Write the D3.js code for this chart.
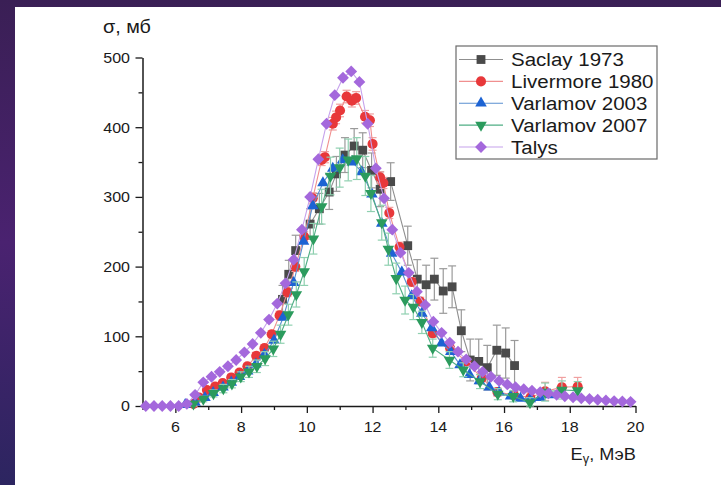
<!DOCTYPE html>
<html>
<head>
<meta charset="utf-8">
<script src="https://cdn.jsdelivr.net/npm/d3@7"></script>
<style>
  html, body { margin: 0; padding: 0; background: #fff; overflow: hidden; }
  text { font-family: "Liberation Sans", Arial, sans-serif; fill: #1a1a1a; }
</style>
</head>
<body>
<svg id="chart" width="721" height="485"></svg>
<script>
// ---- Photoneutron cross-section data (E in MeV, sigma in mb) ----
const saclayE   = [9.26, 9.45, 9.66, 10.1, 10.38, 10.68, 10.9, 11.16, 11.44, 11.7, 11.97, 12.23, 12.55, 13.07, 13.36, 13.63, 13.88, 14.15, 14.42, 14.7, 14.97, 15.23, 15.49, 15.78, 16.05, 16.32];
const saclayV   = [153, 189, 223, 261, 283, 307, 333, 360, 373, 367, 338, 311, 322, 230, 182, 174, 182, 165, 171, 108, 66, 64, 55, 80, 76, 58];
const saclayErr = [20, 20, 22, 22, 22, 25, 25, 25, 25, 25, 25, 25, 27, 28, 28, 28, 30, 32, 30, 30, 30, 32, 32, 36, 36, 36];

const livE   = [6.55, 6.72, 6.96, 7.21, 7.44, 7.70, 7.95, 8.19, 8.46, 8.71, 8.93, 9.17, 9.41, 9.65, 9.92, 10.18, 10.45, 10.55, 10.79, 10.89, 11.01, 11.21, 11.37, 11.5, 11.77, 11.92, 12.0, 12.23, 12.33, 12.51, 12.82, 13.19, 13.45, 13.83, 14.36, 14.85, 15.32, 15.8, 16.3, 16.8, 17.25, 17.76, 18.24];
const livV   = [3, 12, 23, 28, 33, 41, 48, 57, 72, 83, 103, 130, 163, 200, 243, 298, 353, 357, 405, 414, 424, 444, 438, 442, 415, 410, 376, 328, 320, 277, 228, 178, 150, 104, 83, 64, 40, 20, 16, 12, 21, 27, 28];
const livErr = [1, 2, 3, 3, 3, 4, 4, 4, 5, 5, 5, 6, 6, 7, 7, 8, 8, 8, 9, 9, 9, 9, 9, 9, 9, 9, 9, 8, 8, 8, 7, 6, 6, 5, 5, 5, 5, 6, 6, 7, 13, 14, 13];

const v03E = [6.3, 6.6, 6.9, 7.15, 7.45, 7.7, 7.95, 8.2, 8.45, 8.71, 9.0, 9.28, 9.6, 9.9, 10.18, 10.49, 10.79, 11.09, 11.38, 11.67, 11.98, 12.28, 12.58, 12.89, 13.19, 13.5, 13.8, 14.1, 14.38, 14.66, 14.95, 15.25, 15.55, 15.85, 16.2, 16.5, 16.8, 17.1, 17.4, 17.7];
const v03V = [2, 5, 12, 19, 27, 34, 42, 50, 60, 74, 94, 127, 177, 236, 287, 320, 341, 353, 350, 336, 304, 262, 219, 192, 158, 133, 112, 90, 78, 59, 45, 36, 27, 20, 14, 11, 10, 12, 16, 18];

const v07E   = [6.55, 6.85, 7.16, 7.46, 7.72, 7.99, 8.24, 8.48, 8.73, 8.98, 9.2, 9.44, 9.68, 9.92, 10.2, 10.45, 10.72, 11.0, 11.26, 11.52, 11.78, 11.95, 12.28, 12.48, 12.72, 12.99, 13.24, 13.5, 13.83, 14.34, 14.76, 15.27, 15.81, 16.28, 16.79, 17.25, 17.76, 18.24];
const v07V   = [3, 10, 18, 25, 32, 42, 49, 57, 68, 82, 103, 131, 160, 193, 240, 286, 330, 342, 353, 355, 330, 305, 263, 225, 183, 152, 142, 120, 83, 66, 52, 35, 17, 14, 5, 20, 23, 22];
const v07Err = [3, 4, 5, 6, 6, 7, 8, 9, 10, 11, 13, 15, 18, 20, 22, 25, 27, 28, 30, 30, 28, 26, 25, 23, 22, 20, 18, 16, 13, 12, 10, 10, 8, 8, 7, 13, 13, 13];

const talysE = [5.1, 5.35, 5.6, 5.85, 6.1, 6.35, 6.6, 6.85, 7.1, 7.35, 7.6, 7.85, 8.1, 8.35, 8.6, 8.85, 9.1, 9.35, 9.6, 9.85, 10.1, 10.35, 10.6, 10.85, 11.1, 11.35, 11.6, 11.85, 12.1, 12.35, 12.6, 12.85, 13.1, 13.35, 13.6, 13.85, 14.1, 14.35, 14.6, 14.85, 15.1, 15.35, 15.6, 15.85, 16.1, 16.35, 16.6, 16.85, 17.1, 17.35, 17.6, 17.85, 18.1, 18.35, 18.6, 18.85, 19.1, 19.35, 19.6, 19.85];
const talysV = [0, 0, 0, 0, 0, 3, 16, 34, 42, 49, 57, 66, 77, 89, 105, 124, 147, 176, 210, 253, 300, 354, 405, 446, 471, 480, 465, 405, 341, 298, 253, 220, 191, 164, 145, 121, 105, 91, 78, 67, 57, 49, 42, 36, 31, 27, 24, 22, 20, 18, 16, 14, 12.5, 11, 10, 9, 8, 7, 6.5, 6];

const seriesNames = ["Saclay 1973", "Livermore 1980", "Varlamov 2003", "Varlamov 2007", "Talys"];
const xTickLabels = [6, 8, 10, 12, 14, 16, 18, 20];
const xMinorTicks = [5, 7, 9, 11, 13, 15, 17, 19];
const yTickLabels = [0, 100, 200, 300, 400, 500];
const yMinorTicks = [50, 150, 250, 350, 450];

// ---- Build series records ----
const zip = (E, V, Err) => E.map((e, i) => ({ e, v: V[i], err: Err ? Err[i] : 0 }));
const series = [
  { name: seriesNames[0], pts: zip(saclayE, saclayV, saclayErr), line: "#8f8f8f", fill: "#4a4a4a", bar: "#9a9a9a", shape: "square" },
  { name: seriesNames[1], pts: zip(livE, livV, livErr),       line: "#f08f8f", fill: "#e8383a", bar: "#f0a0a0", shape: "circle" },
  { name: seriesNames[2], pts: zip(v03E, v03V, null),         line: "#5a8fd0", fill: "#1d63d3", bar: "#8fb4e0", shape: "up" },
  { name: seriesNames[3], pts: zip(v07E, v07V, v07Err),       line: "#4fae84", fill: "#2b9b5d", bar: "#8fd0b0", shape: "down" },
  { name: seriesNames[4], pts: zip(talysE, talysV, null),     line: "#c6a2ec", fill: "#a468dc", bar: "#c6a2ec", shape: "diamond" }
];

// ---- Canvas ----
const svg = d3.select("#chart");
const defs = svg.append("defs");
const grad = defs.append("linearGradient").attr("id", "bg").attr("x1", 0).attr("y1", 0).attr("x2", 0).attr("y2", 1);
grad.append("stop").attr("offset", "0%").attr("stop-color", "#3a1f55");
grad.append("stop").attr("offset", "50%").attr("stop-color", "#4a2270");
grad.append("stop").attr("offset", "100%").attr("stop-color", "#2c2560");
svg.append("rect").attr("width", 721).attr("height", 485).attr("fill", "url(#bg)");
svg.append("rect").attr("x", 15).attr("y", 7).attr("width", 706).attr("height", 478).attr("fill", "#ffffff");

// ---- Scales ----
const x = d3.scaleLinear().domain([5, 20]).range([142.5, 635.5]);
const y = d3.scaleLinear().domain([0, 500]).range([406, 57.5]);

// ---- Axes ----
const axisColor = "#1a1a1a";
function styleAxis(g) {
  g.selectAll("path.domain").attr("stroke", axisColor).attr("stroke-width", 1.5);
  g.selectAll(".tick line").attr("stroke", axisColor).attr("stroke-width", 1.3);
}
svg.append("g").attr("transform", `translate(0,${y(0)})`)
  .call(d3.axisBottom(x).tickValues(xTickLabels).tickSize(7).tickSizeOuter(0).tickFormat(""))
  .call(styleAxis);
svg.append("g").attr("transform", `translate(0,${y(0)})`)
  .call(d3.axisBottom(x).tickValues(xMinorTicks).tickSize(4).tickSizeOuter(0).tickFormat(""))
  .call(g => g.select("path.domain").remove())
  .call(styleAxis);
svg.append("g").attr("transform", `translate(${x(5)},0)`)
  .call(d3.axisLeft(y).tickValues(yTickLabels).tickSize(7).tickSizeOuter(0).tickFormat(""))
  .call(styleAxis);
svg.append("g").attr("transform", `translate(${x(5)},0)`)
  .call(d3.axisLeft(y).tickValues(yMinorTicks).tickSize(4).tickSizeOuter(0).tickFormat(""))
  .call(g => g.select("path.domain").remove())
  .call(styleAxis);

// Tick labels (slightly wide sans face)
svg.append("g").selectAll("g").data(xTickLabels).join("g")
  .attr("transform", d => `translate(${x(d)},431.5) scale(1.07,1)`)
  .append("text").attr("text-anchor", "middle").attr("font-size", 15).text(d => d);
svg.append("g").selectAll("g").data(yTickLabels).join("g")
  .attr("transform", d => `translate(130,${y(d) + 5.3}) scale(1.07,1)`)
  .append("text").attr("text-anchor", "end").attr("font-size", 15).text(d => d);

// Axis titles
const yTitle = svg.append("g").attr("transform", "translate(103,33) scale(1.1,1)")
  .append("text").attr("font-size", 18);
yTitle.text("σ, мб");
const xTitle = svg.append("g").attr("transform", "translate(636,460) scale(1.07,1)")
  .append("text").attr("font-size", 17).attr("text-anchor", "end");
xTitle.append("tspan").text("E");
xTitle.append("tspan").attr("font-size", 12).attr("dy", 3).text("γ");
xTitle.append("tspan").attr("dy", -3).text(", МэВ");

// ---- Marker shapes ----
function markerPath(shape) {
  switch (shape) {
    case "square":  return d3.symbol(d3.symbolSquare, 78)();
    case "circle":  return d3.symbol(d3.symbolCircle, 80)();
    case "up":      return d3.symbol(d3.symbolTriangle, 58)();
    case "down":    return d3.symbol(d3.symbolTriangle, 58)();
    case "diamond": return d3.symbol(d3.symbolSquare, 70)();
  }
}
function markerRotate(shape) {
  return shape === "down" ? 180 : shape === "diamond" ? 45 : 0;
}

const lineGen = d3.line().x(d => x(d.e)).y(d => y(d.v));
const plot = svg.append("g");

series.forEach(s => {
  const g = plot.append("g");
  // error bars
  const eb = g.append("g").attr("stroke", s.bar).attr("stroke-width", 1.2).attr("fill", "none");
  s.pts.filter(d => d.err > 0).forEach(d => {
    const cx = x(d.e), y1 = y(d.v + d.err), y2 = y(Math.max(0, d.v - d.err));
    eb.append("line").attr("x1", cx).attr("x2", cx).attr("y1", y1).attr("y2", y2);
    eb.append("line").attr("x1", cx - 4).attr("x2", cx + 4).attr("y1", y1).attr("y2", y1);
    eb.append("line").attr("x1", cx - 4).attr("x2", cx + 4).attr("y1", y2).attr("y2", y2);
  });
  // connecting line
  g.append("path").datum(s.pts).attr("d", lineGen)
    .attr("fill", "none").attr("stroke", s.line).attr("stroke-width", 1.1);
  // markers
  g.selectAll("path.m").data(s.pts).join("path").attr("class", "m")
    .attr("d", markerPath(s.shape))
    .attr("transform", d => `translate(${x(d.e)},${y(d.v)}) rotate(${markerRotate(s.shape)})`)
    .attr("fill", s.fill);
});

// ---- Legend ----
const lg = svg.append("g");
lg.append("rect").attr("x", 456).attr("y", 46).attr("width", 201).attr("height", 113)
  .attr("fill", "#fff").attr("stroke", "#6a6a6a").attr("stroke-width", 1.2);
const rowY = d3.scalePoint().domain(seriesNames).range([59.5, 147]);
series.forEach(s => {
  const cy = rowY(s.name);
  lg.append("line").attr("x1", 459).attr("x2", 503).attr("y1", cy).attr("y2", cy)
    .attr("stroke", s.line).attr("stroke-width", 1.2);
  lg.append("path").attr("d", markerPath(s.shape))
    .attr("transform", `translate(481,${cy}) rotate(${markerRotate(s.shape)})`)
    .attr("fill", s.fill);
  lg.append("g").attr("transform", `translate(511,${cy + 6.8}) scale(1.08,1)`)
    .append("text").attr("font-size", 19).text(s.name);
});
</script>
</body>
</html>
